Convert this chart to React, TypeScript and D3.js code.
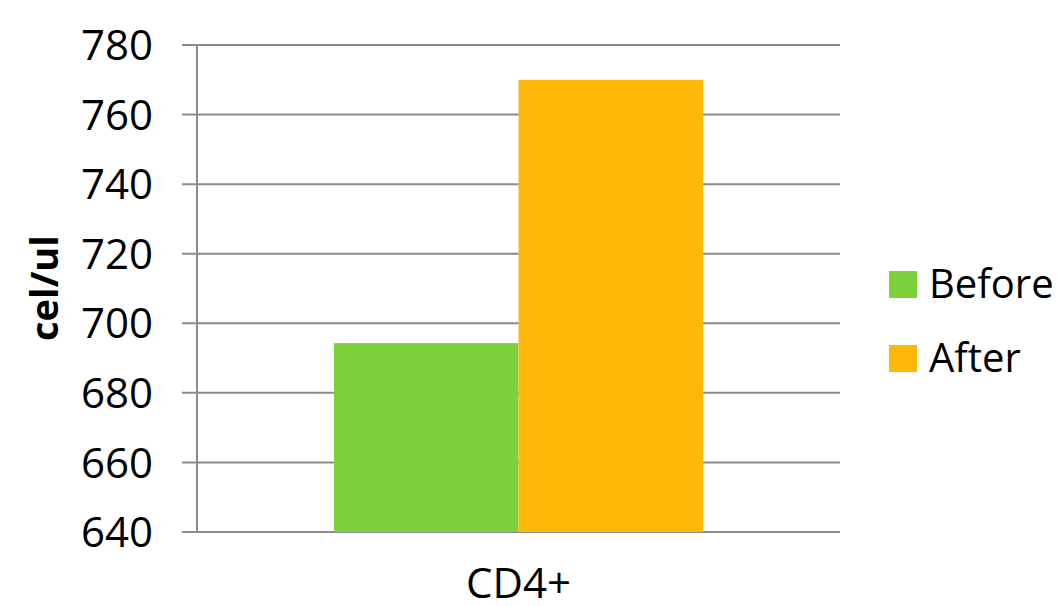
import React from "react";
import * as d3 from "d3";

const categories = ["CD4+"];
const seriesNames = ["Before", "After"];
const beforeValues = [694.3];
const afterValues = [770];
const yTicks = [640, 660, 680, 700, 720, 740, 760, 780];
const colors = ["#7fd13b", "#feb80a"];

export default function App() {
  const W = 1057, H = 606;
  const left = 197, right = 840, top = 45, bottom = 532;
  const y = d3.scaleLinear().domain([640, 780]).range([bottom, top]);
  const x = d3.scaleBand().domain(categories).range([left, right]).paddingInner(0).paddingOuter(0.371);
  const sub = d3.scaleBand().domain(seriesNames).range([0, x.bandwidth()]).padding(0);
  const font = "'Open Sans', sans-serif";
  const values = [beforeValues, afterValues];
  return (
    <svg width={W} height={H} style={{ position: "absolute", left: 0, top: 0 }}>
      <rect width={W} height={H} fill="#fff" />
      {yTicks.map((t) => (
        <g key={t}>
          <line x1={182} x2={right} y1={y(t)} y2={y(t)} stroke="#8c8c8c" strokeWidth={2} />
          <text x={153} y={y(t)} dy="0.36em" textAnchor="end" fontFamily={font} fontSize={42} fill="#000">{t}</text>
        </g>
      ))}
      {categories.map((c, ci) =>
        seriesNames.map((s, si) => (
          <rect key={c + s} x={(x(c) ?? 0) + (sub(s) ?? 0)} width={sub.bandwidth()} y={y(values[si][ci])} height={bottom - y(values[si][ci])} fill={colors[si]} />
        ))
      )}
      <line x1={left} x2={left} y1={top} y2={bottom} stroke="#8c8c8c" strokeWidth={2} />
      {categories.map((c) => (
        <text key={c} x={(x(c) ?? 0) + x.bandwidth() / 2} y={598} textAnchor="middle" fontFamily={font} fontSize={42} fill="#000">{c}</text>
      ))}
      <text transform="translate(58,288) rotate(-90)" textAnchor="middle" fontFamily={font} fontWeight="bold" fontSize={38} fill="#000">cel/ul</text>
      {seriesNames.map((s, i) => (
        <g key={s}>
          <rect x={889} y={271 + i * 74} width={28} height={27} fill={colors[i]} />
          <text x={929} y={298 + i * 74} fontFamily={font} fontSize={40} fill="#000">{s}</text>
        </g>
      ))}
    </svg>
  );
}
